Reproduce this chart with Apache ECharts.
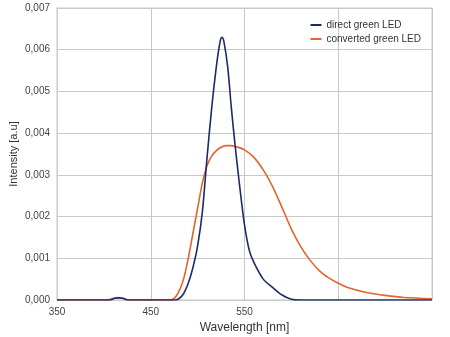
<!DOCTYPE html>
<html><head><meta charset="utf-8">
<script src="https://cdn.jsdelivr.net/npm/echarts@6/dist/echarts.min.js"></script>
<style>html,body{margin:0;padding:0;background:#fff}#c{width:450px;height:337px}</style>
</head><body><div id="c"></div>
<script>
const seriesNames = ['direct green LED', 'converted green LED'];
const directWl = [350, 400, 406, 412, 416, 420, 426, 470, 476, 480, 485, 490, 495, 500, 505, 510, 515, 520, 524, 526, 528, 532, 536, 540, 545, 550, 555, 560, 570, 580, 590, 600, 610, 650, 700, 750];
const directVal = [0, 0, 0, 0.00004, 0.00005, 0.00004, 0, 0, 0, 0.00003, 0.00015, 0.0004, 0.00078, 0.0013, 0.0021, 0.0034, 0.0046, 0.0056, 0.0062, 0.0063, 0.0062, 0.0056, 0.0046, 0.0037, 0.0027, 0.0018, 0.0012, 0.0009, 0.0005, 0.0003, 0.00012, 0.00002, 0, 0, 0, 0];
const convWl = [350, 404, 410, 415, 420, 426, 470, 475, 480, 485, 490, 495, 500, 505, 510, 515, 520, 525, 530, 535, 540, 550, 560, 570, 580, 590, 600, 610, 620, 630, 640, 650, 660, 680, 700, 720, 750];
const convVal = [0, 0, 0.00004, 0.00006, 0.00004, 0, 0, 0.00004, 0.0002, 0.0005, 0.001, 0.0016, 0.0022, 0.0028, 0.00322, 0.00345, 0.00358, 0.00366, 0.0037, 0.0037, 0.00368, 0.0036, 0.00342, 0.00312, 0.00272, 0.00222, 0.0017, 0.00128, 0.00095, 0.0007, 0.00053, 0.0004, 0.0003, 0.00018, 0.00011, 0.00006, 0.00003];
const xTickLabels = {350: '350', 450: '450', 550: '550', 650: '', 750: ''};
const yTickLabels = ['0,000', '0,001', '0,002', '0,003', '0,004', '0,005', '0,006', '0,007'];

const pair = (xs, ys) => xs.map((x, i) => [x, ys[i]]);
const font = 'Liberation Sans, Arial, sans-serif';
const chart = echarts.init(document.getElementById('c'), null, {renderer: 'canvas'});
chart.setOption({
  animation: false,
  grid: {left: 57, right: 18, top: 8, bottom: 37, show: true, borderColor: '#c8c8c8', borderWidth: 1, containLabel: false, outerBoundsMode: 'none'},
  legend: {
    orient: 'vertical', right: 24, top: 15, itemWidth: 11, itemHeight: 2, itemGap: 4, icon: 'rect',
    textStyle: {fontFamily: font, fontSize: 10, color: '#333'},
    data: seriesNames
  },
  xAxis: {
    type: 'value', min: 350, max: 750, interval: 100,
    name: 'Wavelength [nm]', nameLocation: 'middle', nameGap: 22, nameMoveOverlap: false,
    nameTextStyle: {fontFamily: font, fontSize: 12, color: '#333'},
    axisLine: {show: true, lineStyle: {color: '#c8c8c8'}},
    axisTick: {show: false},
    axisLabel: {fontFamily: font, fontSize: 10, color: '#444', margin: 7, formatter: v => xTickLabels[v] || ''},
    splitLine: {show: true, lineStyle: {color: '#c8c8c8'}}
  },
  yAxis: {
    type: 'value', min: 0, max: 0.007, interval: 0.001,
    name: 'Intensity [a.u]', nameLocation: 'middle', nameGap: 38, nameRotate: 90, nameMoveOverlap: false,
    nameTextStyle: {fontFamily: font, fontSize: 11, color: '#333'},
    axisLine: {show: true, lineStyle: {color: '#c8c8c8'}},
    axisTick: {show: false},
    axisLabel: {fontFamily: font, fontSize: 10, color: '#444', margin: 7, formatter: v => yTickLabels[Math.round(v * 1000)]},
    splitLine: {show: true, lineStyle: {color: '#c8c8c8'}}
  },
  series: [
    {name: seriesNames[1], type: 'line', data: pair(convWl, convVal), smooth: 0.3, showSymbol: false,
     lineStyle: {color: '#e5632c', width: 1.6}, itemStyle: {color: '#e5632c'}},
    {name: seriesNames[0], type: 'line', data: pair(directWl, directVal), smooth: 0.3, showSymbol: false,
     lineStyle: {color: '#1d2a6b', width: 1.6}, itemStyle: {color: '#1d2a6b'}}
  ]
});
</script></body></html>
